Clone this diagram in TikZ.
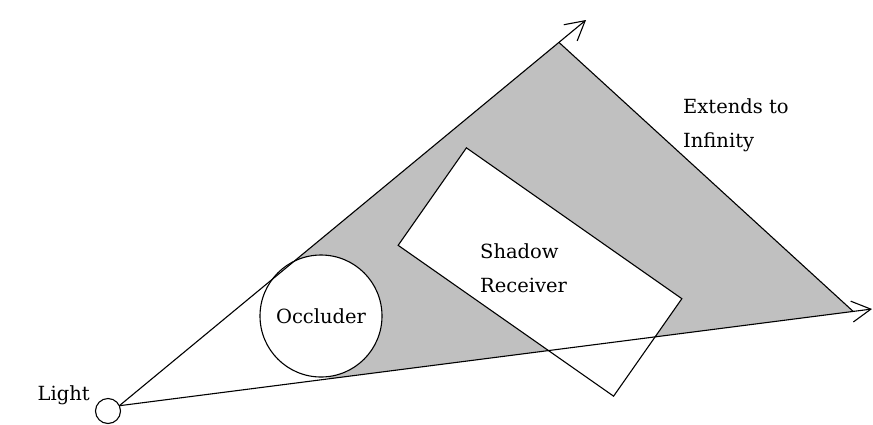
\documentclass[tikz,border=0pt]{standalone}
\usepackage{fontspec}
\setmainfont{DejaVu Serif}
\usetikzlibrary{positioning,calc,arrows.meta}
\definecolor{shadowFill}{HTML}{C0C0C0}
\newcommand{\sceneFont}{\fontsize{19.5}{34}\selectfont}
\tikzset{
  body/.style={
    draw=black, line width=1.1pt, fill=white,
    inner sep=0pt, outer sep=0pt,
  },
  light src/.style={body, circle, minimum size=25pt},
  occluder/.style={body, circle, minimum size=122pt, font=\sceneFont},
  receiver/.style={body, rectangle, minimum width=263pt, minimum height=119pt},
  ray/.style={line width=1.1pt, -{Straight Barb[length=19pt,width=21pt]}},
  shadow edge/.style={line width=1.1pt},
  caption/.style={font=\sceneFont, inner sep=0pt, align=left},
}

\begin{document}
\begin{tikzpicture}[x=1pt, y=-1pt]
\useasboundingbox[fill=white] (0,0) rectangle (873,424);

% --- light source and the two rays ---
\node[light src] (light) at (108,411) {};
\coordinate (src) at (light.25);
\coordinate (tipUp) at (586,20);
\coordinate (tipDown) at (872,309);

% --- shadow volume behind the occluder ---
\coordinate (occC) at (321,316);
\coordinate (apex) at ($(src)!0.942!(tipUp)$);
\coordinate (corner) at ($(src)!0.975!(tipDown)$);
\coordinate (tanUp) at ($(src)!(occC)!(tipUp)$);
\coordinate (tanDown) at ($(src)!(occC)!(tipDown)$);
\fill[shadowFill] (tanUp) -- (apex) -- (corner) -- (tanDown) -- cycle;

% --- receiver and occluder ---
\node[receiver, rotate=-35] (recv) at (540,272) {};
\node[occluder] (occ) at (occC) {Occluder};

\draw[shadow edge] (apex) -- (corner);
\draw[ray] (src) -- (tipUp);
\draw[ray] (src) -- (tipDown);

% --- labels (base = last line) ---
\node[caption, anchor=base east] (lightLbl) at (90,400) {Light};
\node[caption, anchor=base west] (recvLbl) at (480,292) {Shadow\\Receiver};
\node[caption, anchor=base west] (farLbl) at (683,147) {Extends to\\Infinity};

\end{tikzpicture}
\end{document}
